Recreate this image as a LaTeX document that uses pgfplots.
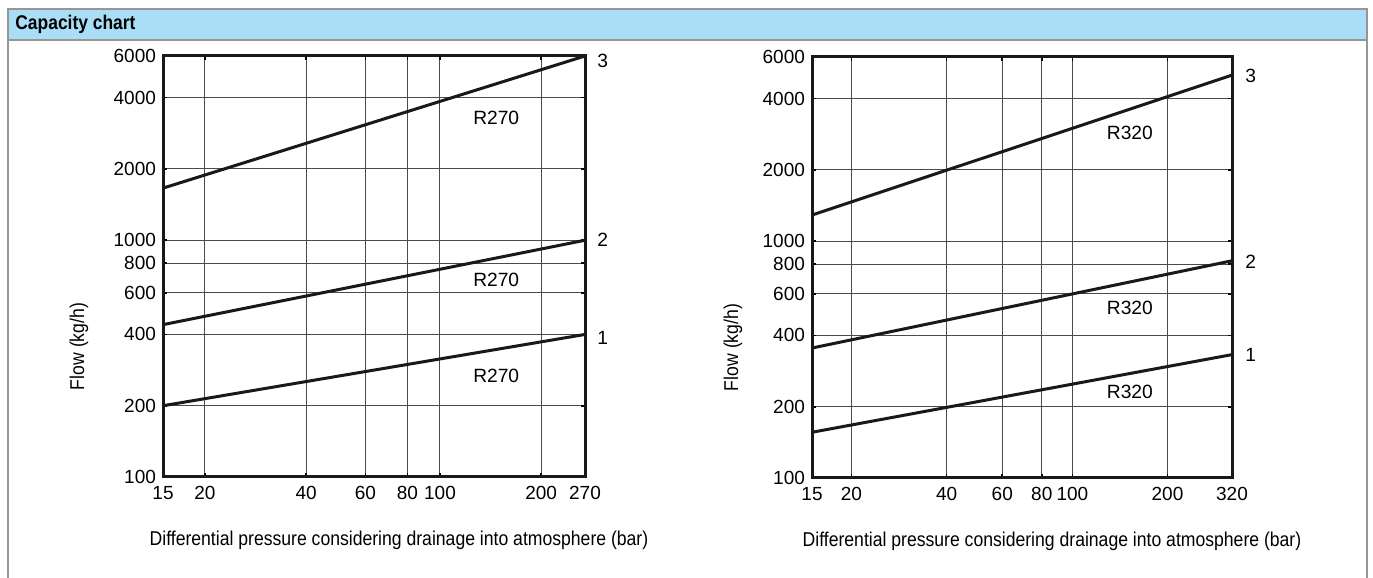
\documentclass[border=0pt]{standalone}
\usepackage{pgfplots}
\pgfplotsset{compat=1.18}
\usepackage{fontspec}
\setmainfont{Liberation Sans}
\newfontfamily\narrowfont{Liberation Sans}[FakeStretch=0.88]
\definecolor{hdr}{RGB}{170,222,247}
\definecolor{frm}{RGB}{150,150,150}
\definecolor{grd}{RGB}{75,75,75}
\tikzset{ln/.style={black!90, line width=1.5pt, mark=none}}
\pgfplotsset{cap/.style={
  scale only axis, ymin=100, ymax=6000,
  width=211pt, height=210.5pt,
  axis line style={line width=1.5pt, black!90},
  grid=major, major grid style={line width=0.5pt, grd},
  minor tick length=0pt, major tick length=2pt, tick align=inside,
  tick style={line width=0.8pt, black},
  ytick={100,200,400,600,800,1000,2000,4000,6000},
  yticklabels={100,200,400,600,800,1000,2000,4000,6000},
  tick label style={font=\fontsize{9.5}{11}\selectfont},
  xticklabel style={yshift=-1pt},
  clip=false,
  xlabel={Differential pressure considering drainage into atmosphere (bar)},
  ylabel={Flow (kg/h)},
}}
\begin{document}
\begin{tikzpicture}
\path[use as bounding box] (0pt,0pt) rectangle (686.5pt,-289pt);
\fill[hdr] (4pt,-4.5pt) rectangle (683.5pt,-20pt);
\draw[frm, line width=0.8pt] (4pt,-300pt) -- (4pt,-4.5pt) -- (683.5pt,-4.5pt) -- (683.5pt,-300pt);
\draw[frm, line width=0.8pt] (4pt,-20pt) -- (683.5pt,-20pt);
\node[anchor=west, inner sep=0pt, font=\narrowfont\fontsize{9.9}{12}\selectfont\bfseries] at (7.5pt,-12.3pt) {Capacity chart};

\begin{loglogaxis}[cap, at={(81.5pt,-238.5pt)}, anchor=south west,
  xmin=15, xmax=270,
  xtick={15,20,40,60,80,100,200,270},
  xticklabels={15,20,40,60,80,100,200,270},
  every axis y label/.style={at={([xshift=-42pt]axis description cs:0,0.31)}, rotate=90, anchor=center, font=\narrowfont\fontsize{10}{12}\selectfont},
  every axis x label/.style={at={([xshift=12.5pt,yshift=-31.5pt]axis description cs:0.5,0)}, anchor=center, font=\narrowfont\fontsize{10}{12}\selectfont},
]
\addplot[ln] coordinates {(15,1660) (270,6000)};
\addplot[ln] coordinates {(15,440) (270,1000)};
\addplot[ln] coordinates {(15,200) (270,400)};
\node[font=\fontsize{9.6}{11}\selectfont] at (axis cs:147,3283) {R270};
\node[font=\fontsize{9.6}{11}\selectfont] at (axis cs:147,679) {R270};
\node[font=\fontsize{9.6}{11}\selectfont] at (axis cs:147,267) {R270};
\node[font=\fontsize{9.6}{11}\selectfont] at (axis cs:305,5714) {3};
\node[font=\fontsize{9.6}{11}\selectfont] at (axis cs:305,1002) {2};
\node[font=\fontsize{9.6}{11}\selectfont] at (axis cs:305,386) {1};
\end{loglogaxis}

\begin{loglogaxis}[cap, at={(406pt,-239pt)}, anchor=south west, width=210pt,
  xmin=15, xmax=320,
  xtick={15,20,40,60,80,100,200,320},
  xticklabels={15,20,40,60,80,100,200,320},
  every axis y label/.style={at={([xshift=-39.5pt]axis description cs:0,0.31)}, rotate=90, anchor=center, font=\narrowfont\fontsize{10}{12}\selectfont},
  every axis x label/.style={at={([xshift=15pt,yshift=-31.5pt]axis description cs:0.5,0)}, anchor=center, font=\narrowfont\fontsize{10}{12}\selectfont},
]
\addplot[ln] coordinates {(15,1290) (320,5030)};
\addplot[ln] coordinates {(15,354) (320,827)};
\addplot[ln] coordinates {(15,156) (320,332)};
\node[font=\fontsize{9.6}{11}\selectfont] at (axis cs:152,2864) {R320};
\node[font=\fontsize{9.6}{11}\selectfont] at (axis cs:152,522) {R320};
\node[font=\fontsize{9.6}{11}\selectfont] at (axis cs:152,231) {R320};
\node[font=\fontsize{9.6}{11}\selectfont] at (axis cs:367,4985) {3};
\node[font=\fontsize{9.6}{11}\selectfont] at (axis cs:367,817) {2};
\node[font=\fontsize{9.6}{11}\selectfont] at (axis cs:367,331) {1};
\end{loglogaxis}
\end{tikzpicture}
\end{document}
